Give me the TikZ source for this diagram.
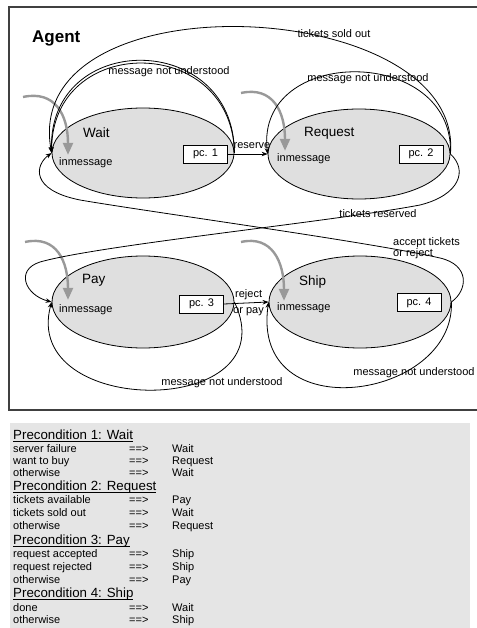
\documentclass[tikz,border=0pt]{standalone}
\usepackage{fontspec}
\setmainfont{Liberation Sans}
\usetikzlibrary{shapes.geometric,arrows.meta}

\newcommand{\ulhead}[1]{\setbox0=\hbox{#1}\rlap{\rule[-2.5pt]{\wd0}{0.8pt}}\box0}
\newcommand{\condrow}[2]{\makebox[116pt][l]{#1}\makebox[43pt][l]{==>}#2}

\tikzset{
  stateell/.style={ellipse, draw, line width=0.8pt, fill=gray!25, minimum width=182pt, minimum height=90pt, inner sep=0pt},
  stname/.style={anchor=base west, inner sep=0pt, font=\fontsize{13.5}{16}\selectfont},
  lbl/.style={inner sep=0pt, font=\fontsize{11}{13}\selectfont},
  pcbox/.style={draw, line width=0.8pt, fill=white, minimum width=44pt, minimum height=18pt, inner sep=0pt, font=\fontsize{11}{13}\selectfont},
  inarrow/.style={draw=black!40, line width=2.4pt, -{Triangle[length=12pt,width=10pt]}},
  trans/.style={draw, line width=0.8pt, -{Stealth[length=6pt,width=4.5pt]}},
  hdr/.style={anchor=base west, inner sep=0pt, font=\fontsize{13.3}{15}\selectfont},
  condline/.style={anchor=base west, inner sep=0pt, font=\fontsize{11}{13}\selectfont},
}

\begin{document}
\begin{tikzpicture}[x=1pt, y=-1pt]
\useasboundingbox (0,0) rectangle (476,628);

% ============================
% Agent frame
% ============================
\draw[black!75, line width=1.2pt] (490,7) -- (9,7) -- (9,410) -- (490,410);
\node[anchor=base west, inner sep=0pt, font=\fontsize{17}{20}\selectfont\bfseries] (agent) at (32,43) {Agent};

% ============================
% States
% ============================
\node[stateell] (wait)    at (143,153) {};
\node[stateell] (request) at (359,154) {};
\node[stateell, minimum height=92pt] (pay)  at (143,302) {};
\node[stateell, minimum height=92pt] (ship) at (360,302) {};

\node[stname] (waitname)    at (83,138)  {Wait};
\node[stname] (requestname) at (304,137) {Request};
\node[stname] (payname)     at (82,283)  {Pay};
\node[stname] (shipname)    at (299,285) {Ship};

\node[lbl, anchor=base west] (waitmsg)    at (59,166)  {inmessage};
\node[lbl, anchor=base west] (requestmsg) at (277,162) {inmessage};
\node[lbl, anchor=base west] (paymsg)     at (59,312)  {inmessage};
\node[lbl, anchor=base west] (shipmsg)    at (277,310) {inmessage};

\node[pcbox] (pc1) at (205.5,154) {pc. 1};
\node[pcbox] (pc2) at (421,154)   {pc. 2};
\node[pcbox] (pc3) at (201.5,304) {pc. 3};
\node[pcbox] (pc4) at (419,302.5) {pc. 4};

% ============================
% Incoming messages (grey)
% ============================
\coordinate (waitsrc)    at (23,97);
\coordinate (requestsrc) at (241,93);
\coordinate (paysrc)     at (25,242);
\coordinate (shipsrc)    at (241,242);

\draw[inarrow] (waitsrc) .. controls (55,90) and (68,115) .. ([xshift=9pt,yshift=3pt]waitmsg.north west);
\draw[inarrow] (requestsrc) .. controls (273,86) and (285,112) .. ([xshift=8pt,yshift=3pt]requestmsg.north west);
\draw[inarrow] (paysrc) .. controls (57,235) and (68,262) .. ([xshift=9pt,yshift=4pt]paymsg.north west);
\draw[inarrow] (shipsrc) .. controls (272,235) and (284,262) .. ([xshift=7pt,yshift=1pt]shipmsg.north west);

% ============================
% Transitions
% ============================
% Wait -> Wait
\draw[trans] (wait.east) .. controls (234,30) and (48,30) .. (wait.west);
\draw[trans] ([yshift=2pt]wait.east) .. controls (230,34) and (52,34) .. (wait.west);
\node[lbl] (waitloop) at (169,72) {message not understood};

% Wait -> Request
\draw[trans] (pc1.east) -- (request.west);
\node[lbl, anchor=base] (reservelbl) at (252,149) {reserve};

% Request -> Wait
\draw[trans] (request.east) .. controls (465,-5) and (20,-25) .. (wait.west);
\node[lbl] (soldout) at (334,34) {tickets sold out};

% Request -> Request
\draw[trans] (request.east) .. controls (455,45) and (255,45) .. (request.west);
\node[lbl] (requestloop) at (368,79) {message not understood};

% Request -> Pay
\draw[trans] (request.east) .. controls (468,170) and (460,195) .. (420,205)
    .. controls (330,222) and (100,245) .. (40,262)
    .. controls (15,270) and (25,295) .. (pay.west);
\node[lbl] (reservedlbl) at (378,214) {tickets reserved};

% Ship -> Wait
\draw[trans] (ship.east) .. controls (468,290) and (470,265) .. (440,258)
    .. controls (370,242) and (150,212) .. (80,200)
    .. controls (30,190) and (35,165) .. (wait.west);
\node[lbl, anchor=base west] (acceptlbl) at (393,245) {accept tickets};
\node[lbl, anchor=base west] (rejectlbl) at (393,256) {or reject};

% Pay -> Ship
\draw[trans] (pc3.east) -- (ship.west);
\node[lbl, anchor=base west] (rejpaylbl) at (235,297) {reject};
\node[lbl, anchor=base west] (orpaylbl)  at (233,313) {or pay};

% Pay -> Pay
\draw[trans] (pay.east) .. controls (290,419) and (20,419) .. (pay.west);
\node[lbl] (payloop) at (222,383) {message not understood};

% Ship -> Ship
\draw[trans] (ship.east) .. controls (455,400) and (250,430) .. (ship.west);
\node[lbl] (shiploop) at (414,373) {message not understood};

% ============================
% Preconditions
% ============================
\fill[gray!20] (10,423) rectangle (470,628);

\node[hdr] (pre1) at (13,439) {\ulhead{Precondition 1: Wait}};
\node[condline] (c11) at (13,452) {\condrow{server failure}{Wait}};
\node[condline] (c12) at (13,464) {\condrow{want to buy}{Request}};
\node[condline] (c13) at (13,476) {\condrow{otherwise}{Wait}};

\node[hdr] (pre2) at (13,490.5) {\ulhead{Precondition 2: Request}};
\node[condline] (c21) at (13,503)   {\condrow{tickets available}{Pay}};
\node[condline] (c22) at (13,516.5) {\condrow{tickets sold out}{Wait}};
\node[condline] (c23) at (13,529.5) {\condrow{otherwise}{Request}};

\node[hdr] (pre3) at (13,544) {\ulhead{Precondition 3: Pay}};
\node[condline] (c31) at (13,557) {\condrow{request accepted}{Ship}};
\node[condline] (c32) at (13,570) {\condrow{request rejected}{Ship}};
\node[condline] (c33) at (13,583) {\condrow{otherwise}{Pay}};

\node[hdr] (pre4) at (13,597) {\ulhead{Precondition 4: Ship}};
\node[condline] (c41) at (13,611.5) {\condrow{done}{Wait}};
\node[condline] (c42) at (13,623.5) {\condrow{otherwise}{Ship}};

\end{tikzpicture}
\end{document}
